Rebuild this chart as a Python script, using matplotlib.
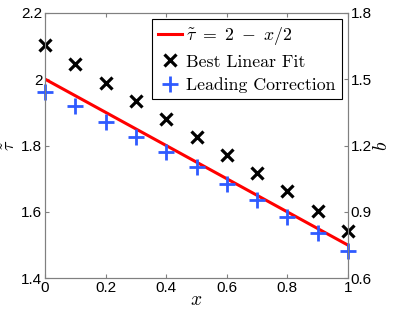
import matplotlib.pyplot as plt
import numpy as np

plt.rcParams['mathtext.fontset'] = 'cm'
plt.rcParams['font.family'] = ['Liberation Sans', 'DejaVu Sans']

# data
x_pts = [0.0, 0.1, 0.2, 0.3, 0.4, 0.5, 0.6, 0.7, 0.8, 0.9, 1.0]
b_fit = [1.654, 1.568, 1.481, 1.401, 1.320, 1.239, 1.158, 1.077, 0.995, 0.906, 0.815]
tau_corr = [1.962, 1.919, 1.872, 1.827, 1.781, 1.734, 1.684, 1.636, 1.586, 1.536, 1.483]
x_line = [0.0, 1.0]
tau_line = [2.0, 1.5]

grey = '#808080'
fig = plt.figure(figsize=(3.99, 3.12), dpi=100)
ax = fig.add_axes([0.113, 0.108, 0.759, 0.851])
ax2 = ax.twinx()

l1, = ax.plot(x_line, tau_line, color='#ff0000', lw=2.2, zorder=3)
p2, = ax2.plot(x_pts, b_fit, ls='none', marker='x', ms=8, mew=2.3, color='black',
               clip_on=False)
p3, = ax.plot(x_pts, tau_corr, ls='none', marker='+', ms=11, mew=2.0, color='#2f5bff',
              zorder=4, clip_on=False)

ax.set_xlim(0, 1)
ax.set_ylim(1.4, 2.2)
ax2.set_ylim(0.6, 1.8)
ax.set_xticks([0, 0.2, 0.4, 0.6, 0.8, 1])
ax.set_xticklabels(['0', '0.2', '0.4', '0.6', '0.8', '1'])
ax.set_yticks([1.4, 1.6, 1.8, 2.0, 2.2])
ax.set_yticklabels(['1.4', '1.6', '1.8', '2', '2.2'])
ax2.set_yticks([0.6, 0.9, 1.2, 1.5, 1.8])
ax2.set_yticklabels(['0.6', '0.9', '1.2', '1.5', '1.8'])

for a in (ax, ax2):
    for s in a.spines.values():
        s.set_color(grey)
    a.tick_params(direction='in', length=3, color=grey, labelsize=11, pad=2)
ax.tick_params(top=True)

ax.set_xlabel(r'$x$', fontsize=14, labelpad=-2)
ax.set_ylabel(r'$\tilde{\tau}$', fontsize=13)
ax.yaxis.set_label_coords(-0.085, 0.5)
ax2.set_ylabel(r'$b$', fontsize=14, labelpad=1, rotation=90)

leg = ax.legend([l1, p2, p3],
                [r'$\tilde{\tau}\ =\ 2\ -\ x/2$', 'Best Linear Fit', 'Leading Correction'],
                loc='upper right', bbox_to_anchor=(0.985, 0.985),
                prop={'family': 'cmr10', 'size': 12.8},
                fancybox=False, framealpha=1, edgecolor='black',
                handlelength=1.35, borderpad=0.35, labelspacing=0.42,
                handletextpad=0.2, borderaxespad=0.1)
leg.get_frame().set_linewidth(0.8)

fig.savefig('out.png', dpi=100)
